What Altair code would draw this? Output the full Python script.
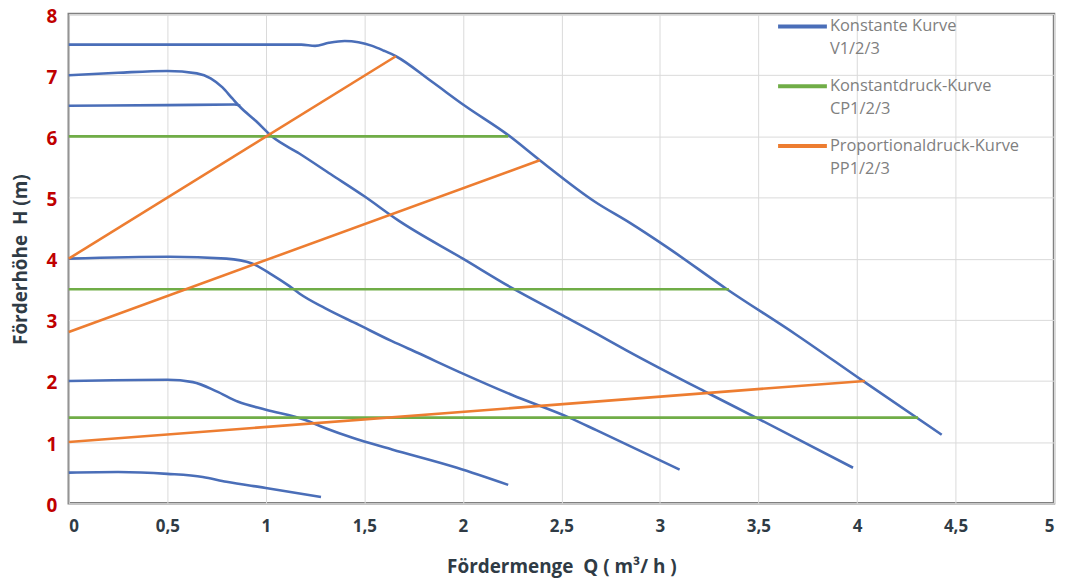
import altair as alt
import pandas as pd

# ---- data ----
kinds = ["Konstante Kurve|V1/2/3", "Konstantdruck-Kurve|CP1/2/3", "Proportionaldruck-Kurve|PP1/2/3"]
kind_colors = ["#4a6eb8", "#70ad47", "#ed7d31"]

# constant-speed curves (blue)
v3_q = [0, 0.5, 1.0, 1.18, 1.25, 1.32, 1.4, 1.47, 1.54, 1.6, 1.66, 1.84, 2.01, 2.23, 2.39, 2.67, 2.85, 3.03, 3.34, 3.69, 4.03, 4.43]
v3_h = [7.5, 7.5, 7.5, 7.5, 7.48, 7.53, 7.56, 7.54, 7.48, 7.4, 7.31, 6.9, 6.5, 6.02, 5.61, 4.93, 4.58, 4.2, 3.5, 2.76, 2.0, 1.12]

v2_q = [0, 0.25, 0.5, 0.65, 0.72, 0.78, 0.83, 0.87, 0.95, 1.03, 1.17, 1.33, 1.5, 1.67, 2.0, 2.26, 2.49, 2.68, 2.83, 3.25, 3.5, 3.98]
v2_h = [7.0, 7.04, 7.07, 7.03, 6.95, 6.8, 6.62, 6.48, 6.25, 6.0, 5.72, 5.38, 5.02, 4.63, 4.0, 3.5, 3.1, 2.77, 2.5, 1.79, 1.38, 0.58]

v1_q = [0, 0.5, 0.84, 0.87]
v1_h = [6.5, 6.51, 6.52, 6.5]

v4_q = [0, 0.51, 0.8, 0.93, 1.03, 1.12, 1.17, 1.3, 1.47, 1.64, 1.77, 2.0, 2.25, 2.54, 2.68, 3.1]
v4_h = [4.0, 4.03, 4.0, 3.92, 3.74, 3.55, 3.43, 3.19, 2.92, 2.65, 2.46, 2.12, 1.77, 1.4, 1.19, 0.55]

v5_q = [0, 0.5, 0.63, 0.75, 0.86, 1.0, 1.2, 1.3, 1.44, 1.64, 1.97, 2.23]
v5_h = [2.0, 2.02, 1.98, 1.83, 1.66, 1.53, 1.36, 1.23, 1.07, 0.88, 0.58, 0.3]

v6_q = [0, 0.25, 0.5, 0.68, 0.8, 1.0, 1.28]
v6_h = [0.5, 0.51, 0.48, 0.43, 0.35, 0.25, 0.1]

# constant-pressure lines (green)
cp_h = [6.0, 3.5, 1.4]
cp_qmax = [2.23, 3.35, 4.31]

# proportional-pressure lines (orange)
pp_h0 = [4.0, 2.8, 1.0]
pp_q1 = [1.66, 2.39, 4.04]
pp_h1 = [7.31, 5.61, 2.0]

x_ticks = [0, 0.5, 1, 1.5, 2, 2.5, 3, 3.5, 4, 4.5, 5]
y_ticks = [0, 1, 2, 3, 4, 5, 6, 7, 8]

NB = "\u00a0"
x_title = f"Fördermenge{NB}{NB}Q ( m³/ h )"
y_title = f"Förderhöhe{NB}{NB}H (m)"

# ---- build table ----
rows = []
blue = [(v3_q, v3_h), (v2_q, v2_h), (v1_q, v1_h), (v4_q, v4_h), (v5_q, v5_h), (v6_q, v6_h)]
for i, (qs, hs) in enumerate(blue):
    for j, (q, h) in enumerate(zip(qs, hs)):
        rows.append({"curve": f"V{i}", "kind": kinds[0], "Q": q, "H": h, "o": j})
for i, (h, qm) in enumerate(zip(cp_h, cp_qmax)):
    rows.append({"curve": f"CP{i}", "kind": kinds[1], "Q": 0, "H": h, "o": 0})
    rows.append({"curve": f"CP{i}", "kind": kinds[1], "Q": qm, "H": h, "o": 1})
for i, (h0, q1, h1) in enumerate(zip(pp_h0, pp_q1, pp_h1)):
    rows.append({"curve": f"PP{i}", "kind": kinds[2], "Q": 0, "H": h0, "o": 0})
    rows.append({"curve": f"PP{i}", "kind": kinds[2], "Q": q1, "H": h1, "o": 1})
df = pd.DataFrame(rows)

chart = alt.Chart(df).mark_line(strokeWidth=2.6, interpolate="monotone").encode(
    x=alt.X("Q:Q", scale=alt.Scale(domain=[0, 5], nice=False),
            axis=alt.Axis(values=x_ticks, title=x_title,
                          labelExpr="replace(format(datum.value, ''), '.', ',')",
                          labelColor="#2f3b45", labelFontSize=17, labelPadding=15,
                          titleFontSize=19, titleY=64, titleBaseline="middle")),
    y=alt.Y("H:Q", scale=alt.Scale(domain=[0, 8], nice=False),
            axis=alt.Axis(values=y_ticks, title=y_title,
                          labelColor="#c00000", labelFontSize=19, labelPadding=12, labelOffset=2,
                          titleFontSize=19,
                          titleX=-38, titleY=246, titleBaseline="bottom", titleAlign="center")),
    color=alt.Color("kind:N", scale=alt.Scale(domain=kinds, range=kind_colors),
                    legend=alt.Legend(title=None, orient="none", legendX=710, legendY=-14,
                                      symbolType="stroke", symbolSize=2400, symbolStrokeWidth=4,
                                      labelExpr="split(datum.label, '|')",
                                      labelFont="Open Sans", labelFontSize=16.5, labelColor="#7f7f7f",
                                      labelOffset=1, rowPadding=2, padding=0, labelLimit=300)),
    detail="curve:N",
    order="o:Q",
).properties(
    width=989, height=491,
    padding={"left": 61, "top": 5, "right": 8, "bottom": 76},
    autosize=alt.AutoSizeParams(type="none"),
).configure(
    style={"guide-label": {"lineHeight": 23}}
).configure_view(
    stroke="#808080", strokeWidth=2.5
).configure_axis(
    grid=True, gridColor="#dadada", gridWidth=1, domain=False, ticks=False,
    labelFont="Open Sans", labelFontWeight="bold",
    titleFont="Open Sans", titleFontWeight="bold", titleColor="#2f3b45",
)

chart.save("out.html", embed_options={"renderer": "svg", "actions": False})
